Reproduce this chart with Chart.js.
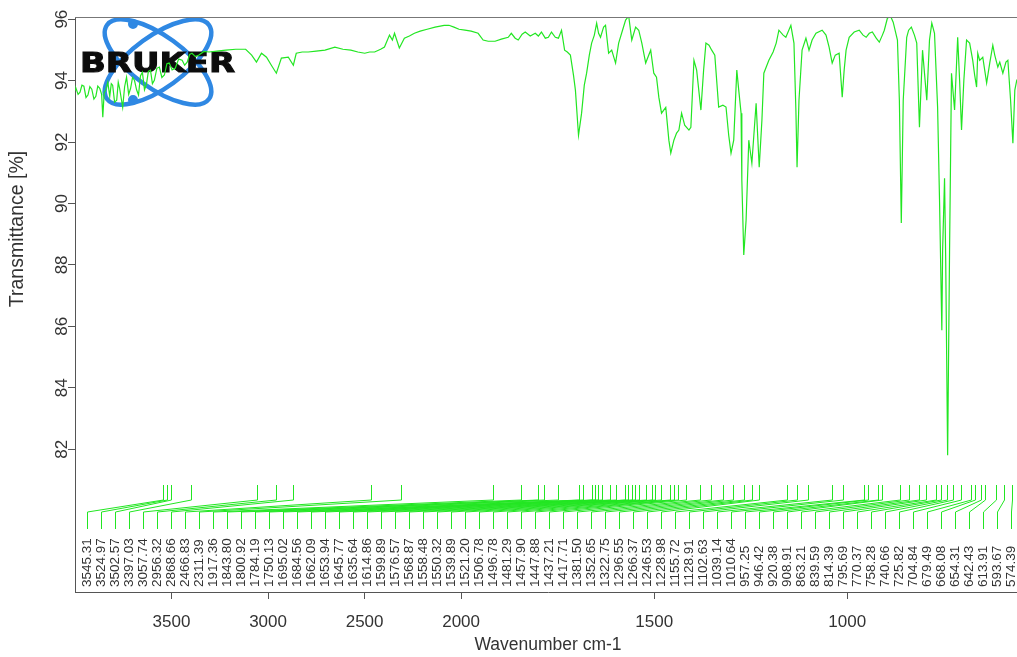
<!DOCTYPE html>
<html>
<head>
<meta charset="utf-8">
<script src="https://cdn.jsdelivr.net/npm/chart.js@4.4.1/dist/chart.umd.min.js"></script>
<style>
html, body { margin: 0; padding: 0; background: #fff; overflow: hidden; width: 1017px; height: 657px; }
canvas { display: block; }
</style>
</head>
<body>
<canvas id="irSpectrum" width="1040" height="657"></canvas>
<script>
// spectrum (cm-1, %T)
const wavenumbers = [
    4000, 3995, 3984, 3974, 3964, 3954, 3943, 3933, 3923, 3913, 3902, 3892, 3882, 3872, 3862, 3856, 3849, 3841, 3830,
    3820, 3812, 3805, 3795, 3784, 3776, 3769, 3760, 3753, 3743, 3733, 3722, 3712, 3702, 3692, 3681, 3671, 3661,
    3651, 3640, 3630, 3620, 3609, 3599, 3589, 3576, 3563, 3550, 3537, 3524, 3512, 3497, 3481, 3463, 3445, 3432,
    3419, 3406, 3394, 3376, 3358, 3332, 3306, 3265, 3219, 3167, 3116, 3085, 3060, 3034, 3008, 2983, 2957, 2931,
    2895, 2869, 2854, 2823, 2792, 2751, 2705, 2654, 2612, 2571, 2535, 2499, 2474, 2448, 2417, 2397, 2371, 2356,
    2345, 2320, 2294, 2268, 2242, 2212, 2176, 2135, 2088, 2063, 2037, 2011,
    1990, 1974, 1956, 1943, 1930, 1912, 1896, 1878, 1870, 1860, 1852, 1842, 1834, 1821, 1808, 1800, 1792, 1782,
    1774, 1766, 1756, 1748, 1740, 1732, 1725, 1717, 1709, 1704, 1696, 1688, 1681, 1675, 1668, 1662, 1655, 1649,
    1644, 1639, 1631, 1626, 1618, 1610, 1600, 1592, 1582, 1574, 1566, 1558, 1548, 1540, 1532, 1522, 1514, 1509,
    1501, 1494, 1488, 1481, 1470, 1462, 1457, 1449, 1442, 1436, 1429, 1421, 1410, 1405, 1397, 1390, 1379, 1372,
    1366, 1358, 1351, 1343, 1333, 1322, 1314, 1307, 1301, 1294, 1286, 1281, 1275, 1273, 1268, 1262, 1255, 1247,
    1236, 1228, 1221, 1216, 1203, 1192, 1184, 1177, 1166, 1159, 1146, 1138, 1133, 1130, 1125, 1117, 1107, 1099,
    1091, 1081, 1065, 1055, 1047, 1039, 1031, 1021, 1013, 1008, 1003, 995, 982, 969, 959, 951, 943, 935, 925,
    917, 909, 904, 896, 888, 881, 870, 865, 860, 855, 846, 841, 834, 826, 820, 813, 805, 794, 787, 781, 774,
    766, 761, 755, 753, 748, 745, 740, 735, 730, 722, 714, 709, 704, 698, 691, 683, 675, 670, 665, 662, 657,
    649, 644, 639, 631, 623, 618, 610, 605, 597, 589, 584, 577, 571, 566, 561, 550
];
const transmittance = [
    93.70, 93.75, 93.55, 93.62, 93.85, 93.82, 93.45, 93.53, 93.80, 93.72, 93.40, 93.49, 93.82, 93.75, 93.55, 92.81, 93.60, 93.69, 93.95,
    93.49, 93.90, 93.85, 93.30, 93.36, 93.95, 93.75, 93.40, 93.13, 93.80, 94.11, 93.55, 93.75, 94.10, 94.01, 93.70, 93.53, 94.15,
    94.27, 93.70, 93.88, 94.30, 94.34, 93.90, 94.01, 94.40, 94.44, 94.10, 94.18, 94.55, 94.57, 94.35, 94.40, 94.70, 94.66, 94.50,
    94.60, 94.85, 94.89, 94.78, 94.83, 94.95, 94.93, 94.96, 94.99, 95.02, 95.02, 94.83, 94.60, 94.89, 94.76, 94.50, 94.24, 94.73,
    94.76, 94.50, 94.89, 94.93, 94.93, 94.96, 94.99, 95.09, 95.02, 94.99, 94.93, 94.89, 94.93, 94.93, 95.02, 95.09, 95.48, 95.32,
    95.54, 95.06, 95.38, 95.45, 95.54, 95.61, 95.67, 95.74, 95.80, 95.80, 95.74, 95.67,
    95.64, 95.61, 95.54, 95.32, 95.28, 95.28, 95.35, 95.41, 95.54, 95.38, 95.32, 95.51, 95.58, 95.45, 95.54, 95.45, 95.58, 95.38,
    95.41, 95.58, 95.41, 95.38, 95.64, 94.99, 94.93, 94.83, 94.18, 93.69, 92.22, 92.94, 93.85, 94.24, 94.83, 95.22, 95.48, 95.87,
    95.54, 95.41, 95.74, 95.80, 94.89, 94.99, 94.57, 95.22, 95.64, 95.97, 96.10, 95.32, 95.74, 95.64, 95.22, 94.57, 94.83, 94.99,
    94.24, 94.11, 93.46, 92.94, 93.13, 92.06, 91.64, 92.06, 92.29, 92.39, 92.94, 92.55, 92.39, 92.48, 94.66, 94.34, 93.04, 94.34,
    95.22, 95.15, 94.99, 94.83, 93.14, 93.20, 93.14, 92.22, 91.64, 92.06, 94.34, 93.69, 92.94, 90.76, 88.32, 89.45, 92.06, 91.31,
    93.26, 91.18, 92.71, 94.24, 94.66, 94.93, 95.22, 95.64, 95.48, 95.41, 95.80, 95.22, 93.04, 91.18, 93.36, 94.99, 95.38, 94.99,
    95.32, 95.54, 95.64, 95.48, 95.09, 94.57, 94.83, 94.89, 93.46, 94.34, 94.99, 95.41, 95.58, 95.64, 95.48, 95.41, 95.54, 95.58, 95.38,
    95.25, 95.48, 95.64, 96.03, 96.10, 95.90, 95.32, 93.36, 89.36, 93.36, 95.41, 95.64, 95.74, 95.48, 95.22, 92.48, 94.99, 93.36, 95.32, 95.87, 95.54,
    93.14, 90.11, 85.87, 88.48, 90.82, 88.15, 81.80, 88.48, 94.24, 93.04, 95.41, 94.01, 92.39, 94.01, 95.32, 95.22, 94.66, 94.18, 93.79, 94.89, 94.66,
    94.76, 94.34, 93.92, 94.57, 95.15, 94.83, 94.44, 94.60, 94.24, 94.60, 94.66, 93.36, 91.96, 93.69, 94.01, 94.18
];
// picked peaks, in label order
const peakWavenumbers = [
    3545.31, 3524.97, 3502.57, 3397.03, 3057.74, 2956.32, 2868.66, 2466.83, 2311.39, 1917.36,
    1843.80, 1800.92, 1784.19, 1750.13, 1695.02, 1684.56, 1662.09, 1653.94, 1645.77, 1635.64,
    1614.86, 1599.89, 1576.57, 1568.87, 1558.48, 1550.32, 1539.89, 1521.20, 1506.78, 1496.78,
    1481.29, 1457.90, 1447.88, 1437.21, 1417.71, 1381.50, 1352.65, 1322.75, 1296.55, 1266.37,
    1246.53, 1228.98, 1155.72, 1128.91, 1102.63, 1039.14, 1010.64, 957.25, 946.42, 920.38,
    908.91, 863.21, 839.59, 814.39, 795.69, 770.37, 758.28, 740.66, 725.82, 704.84,
    679.49, 668.08, 654.31, 642.43, 613.91, 593.67, 574.39
];
const xTickValues = [3500, 3000, 2500, 2000, 1500, 1000];
const yTickValues = [82, 84, 86, 88, 90, 92, 94, 96];

const xStart = 4000, xEnd = 550, xBreak = 2000;
const lineGreen = '#22e622';
const textGrey = '#333';
const fontFamily = '"Liberation Sans", Arial, sans-serif';

// above 2000 cm-1 the axis is compressed to half scale
function warp(v) {
    return v >= xBreak ? (xStart - v) / 2 : (xStart - xBreak) / 2 + (xBreak - v);
}
function unwarp(t) {
    const tb = (xStart - xBreak) / 2;
    return t <= tb ? xStart - t * 2 : xBreak - (t - tb);
}

class SpectrumScale extends Chart.LinearScale {
    getPixelForValue(value) {
        return this.left + warp(value) / warp(xEnd) * this.width;
    }
    getValueForPixel(pixel) {
        return unwarp((pixel - this.left) / this.width * warp(xEnd));
    }
}
SpectrumScale.id = 'spectrum';
SpectrumScale.defaults = Chart.LinearScale.defaults;
Chart.register(SpectrumScale);

function drawLogo(ctx) {
    ctx.save();
    ctx.strokeStyle = '#2f88e3';
    ctx.fillStyle = '#2f88e3';
    ctx.lineWidth = 4.5;
    ctx.beginPath();
    ctx.ellipse(158, 62, 63, 26, Math.PI * 0.2, 0, Math.PI * 2);
    ctx.stroke();
    ctx.beginPath();
    ctx.ellipse(158, 62, 63, 26, -Math.PI * 0.2, 0, Math.PI * 2);
    ctx.stroke();
    ctx.beginPath();
    ctx.arc(133, 24, 5, 0, Math.PI * 2);
    ctx.arc(133, 100, 5, 0, Math.PI * 2);
    ctx.fill();
    ctx.font = 'bold 27px "DejaVu Sans", ' + fontFamily;
    ctx.fillStyle = '#0c0c0c';
    ctx.strokeStyle = '#0c0c0c';
    ctx.lineWidth = 1;
    ctx.textBaseline = 'alphabetic';
    const w = ctx.measureText('BRUKER').width;
    ctx.translate(80, 72);
    ctx.scale(155 / w, 1);
    ctx.fillText('BRUKER', 0, 0);
    ctx.strokeText('BRUKER', 0, 0);
    ctx.restore();
}

const spectrumDecor = {
    id: 'spectrumDecor',
    beforeDatasetsDraw(chart) {
        drawLogo(chart.ctx);
    },
    afterDatasetsDraw(chart) {
        const ctx = chart.ctx;
        const a = chart.chartArea;
        const xs = chart.scales.x;
        const ys = chart.scales.y;
        ctx.save();
        // frame top
        ctx.strokeStyle = '#777';
        ctx.lineWidth = 1;
        ctx.beginPath();
        ctx.moveTo(a.left, a.top + 0.5);
        ctx.lineTo(a.right, a.top + 0.5);
        ctx.lineTo(a.right, a.bottom);
        ctx.stroke();

        // peak markers and their labels
        ctx.strokeStyle = lineGreen;
        ctx.fillStyle = textGrey;
        ctx.font = '13.5px ' + fontFamily;
        ctx.textAlign = 'left';
        ctx.textBaseline = 'middle';
        peakWavenumbers.forEach((wn, i) => {
            const px = Math.round(xs.getPixelForValue(wn)) + 0.5;
            const lx = Math.round(a.left + 12 + i * 14) + 0.5;
            ctx.beginPath();
            ctx.moveTo(px, a.bottom - 107);
            ctx.lineTo(px, a.bottom - 92);
            ctx.lineTo(lx, a.bottom - 80);
            ctx.lineTo(lx, a.bottom - 63);
            ctx.stroke();
            ctx.save();
            ctx.translate(lx, a.bottom - 5);
            ctx.rotate(-Math.PI / 2);
            ctx.fillText(wn.toFixed(2), 0, 0);
            ctx.restore();
        });

        // y tick labels, parallel to the axis
        ctx.font = '17px ' + fontFamily;
        ctx.textAlign = 'center';
        yTickValues.forEach(v => {
            ctx.save();
            ctx.translate(62, ys.getPixelForValue(v));
            ctx.rotate(-Math.PI / 2);
            ctx.fillText(String(v), 0, 0);
            ctx.restore();
        });

        ctx.font = '19.5px ' + fontFamily;
        ctx.save();
        ctx.translate(18, 229);
        ctx.rotate(-Math.PI / 2);
        ctx.fillText('Transmittance [%]', 0, 0);
        ctx.restore();
        ctx.restore();
    }
};

const ctx = document.getElementById('irSpectrum').getContext('2d');

new Chart(ctx, {
    type: 'line',
    data: {
        datasets: [{
            label: 'IR spectrum',
            data: wavenumbers.map((w, i) => ({ x: w, y: transmittance[i] })),
            borderColor: lineGreen,
            borderWidth: 1.2,
            pointRadius: 0,
            tension: 0,
            fill: false
        }]
    },
    options: {
        responsive: false,
        animation: false,
        layout: { padding: { top: 17, right: 19, left: 0, bottom: 0 } },
        plugins: { legend: { display: false }, tooltip: { enabled: false } },
        scales: {
            x: {
                type: 'spectrum',
                min: xEnd,
                max: xStart,
                afterBuildTicks: s => { s.ticks = xTickValues.map(v => ({ value: v })); },
                afterFit: s => { s.height = 65; },
                grid: { drawOnChartArea: false, drawTicks: true, tickLength: 7, color: '#555' },
                border: { display: true, color: '#555' },
                ticks: {
                    autoSkip: false,
                    maxRotation: 0,
                    padding: 13,
                    color: textGrey,
                    font: { family: fontFamily, size: 17 },
                    callback: v => String(v)
                },
                title: {
                    display: true,
                    text: 'Wavenumber cm-1',
                    color: textGrey,
                    font: { family: fontFamily, size: 17.5 },
                    padding: { top: 0, bottom: 1 }
                }
            },
            y: {
                min: 77.35,
                max: 96.07,
                afterBuildTicks: s => { s.ticks = yTickValues.map(v => ({ value: v })); },
                afterFit: s => { s.width = 75; },
                grid: { drawOnChartArea: false, drawTicks: true, tickLength: 7, color: '#555' },
                border: { display: true, color: '#555' },
                ticks: { display: false }
            }
        }
    },
    plugins: [spectrumDecor]
});
</script>
</body>
</html>
